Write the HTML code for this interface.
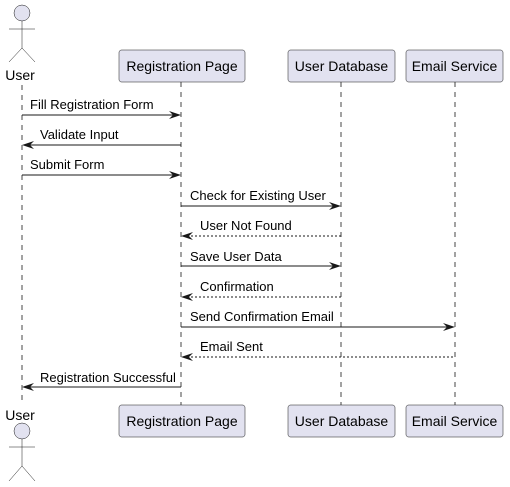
<!DOCTYPE html>
<html><head><style>html,body{margin:0;padding:0;background:#fff}svg{display:block}</style></head><body>
<svg width="510" height="487" xmlns="http://www.w3.org/2000/svg" font-family="Liberation Sans, sans-serif">
<g stroke="#181818" stroke-width="1" stroke-dasharray="5,5" fill="none" opacity="0.8">
<line x1="22" y1="85" x2="22" y2="405"/>
<line x1="181" y1="82" x2="181" y2="405"/>
<line x1="341" y1="82" x2="341" y2="405"/>
<line x1="455" y1="82" x2="455" y2="405"/>
</g>
<g fill="#E2E2F0" stroke="#181818" stroke-width="0.5">
<rect x="119" y="50" width="126" height="32" rx="2.5"/>
<rect x="288" y="50" width="107" height="32" rx="2.5"/>
<rect x="406" y="50" width="97" height="32" rx="2.5"/>
<rect x="119" y="405" width="126" height="32" rx="2.5"/>
<rect x="288" y="405" width="107" height="32" rx="2.5"/>
<rect x="406" y="405" width="97" height="32" rx="2.5"/>
</g>
<g font-size="14" fill="#000" text-anchor="middle">
<text x="182" y="71">Registration Page</text>
<text x="341.5" y="71">User Database</text>
<text x="454.5" y="71">Email Service</text>
<text x="182" y="426">Registration Page</text>
<text x="341.5" y="426">User Database</text>
<text x="454.5" y="426">Email Service</text>
<text x="20" y="80">User</text>
<text x="20" y="420">User</text>
</g>
<g stroke="#181818" stroke-width="0.5" fill="#E2E2F0">
<circle cx="22" cy="13" r="8"/>
<circle cx="22" cy="431" r="8"/>
</g>
<g stroke="#181818" stroke-width="0.5" fill="none">
<path d="M22 21V48M9 29H35M22 48L9 62M22 48L35 62"/>
<path d="M22 439V466M9 447H35M22 466L9 481M22 466L35 481"/>
</g>
<g font-size="13" fill="#000">
<text x="30" y="109">Fill Registration Form</text>
<text x="40" y="139">Validate Input</text>
<text x="30" y="169">Submit Form</text>
<text x="190" y="200">Check for Existing User</text>
<text x="200" y="230">User Not Found</text>
<text x="190" y="261">Save User Data</text>
<text x="200" y="291">Confirmation</text>
<text x="190" y="321">Send Confirmation Email</text>
<text x="200" y="351">Email Sent</text>
<text x="40" y="382">Registration Successful</text>
</g>
<g stroke="#181818" stroke-width="1" fill="none">
<line x1="22" y1="115" x2="179" y2="115"/>
<line x1="24" y1="145" x2="181" y2="145"/>
<line x1="22" y1="175" x2="179" y2="175"/>
<line x1="181" y1="206" x2="339" y2="206"/>
<line x1="183" y1="236" x2="341" y2="236" stroke-dasharray="2,2"/>
<line x1="181" y1="266" x2="339" y2="266"/>
<line x1="183" y1="297" x2="341" y2="297" stroke-dasharray="2,2"/>
<line x1="181" y1="327" x2="453" y2="327"/>
<line x1="183" y1="357" x2="455" y2="357" stroke-dasharray="2,2"/>
<line x1="24" y1="387" x2="181" y2="387"/>
</g>
<g fill="#181818">
<path d="M169 111L181 115L169 119L173 115Z"/>
<path d="M34 141L22 145L34 149L30 145Z"/>
<path d="M169 171L181 175L169 179L173 175Z"/>
<path d="M329 202L341 206L329 210L333 206Z"/>
<path d="M193 232L181 236L193 240L189 236Z"/>
<path d="M329 262L341 266L329 270L333 266Z"/>
<path d="M193 293L181 297L193 301L189 297Z"/>
<path d="M443 323L455 327L443 331L447 327Z"/>
<path d="M193 353L181 357L193 361L189 357Z"/>
<path d="M34 383L22 387L34 391L30 387Z"/>
</g>
</svg>
</body></html>
